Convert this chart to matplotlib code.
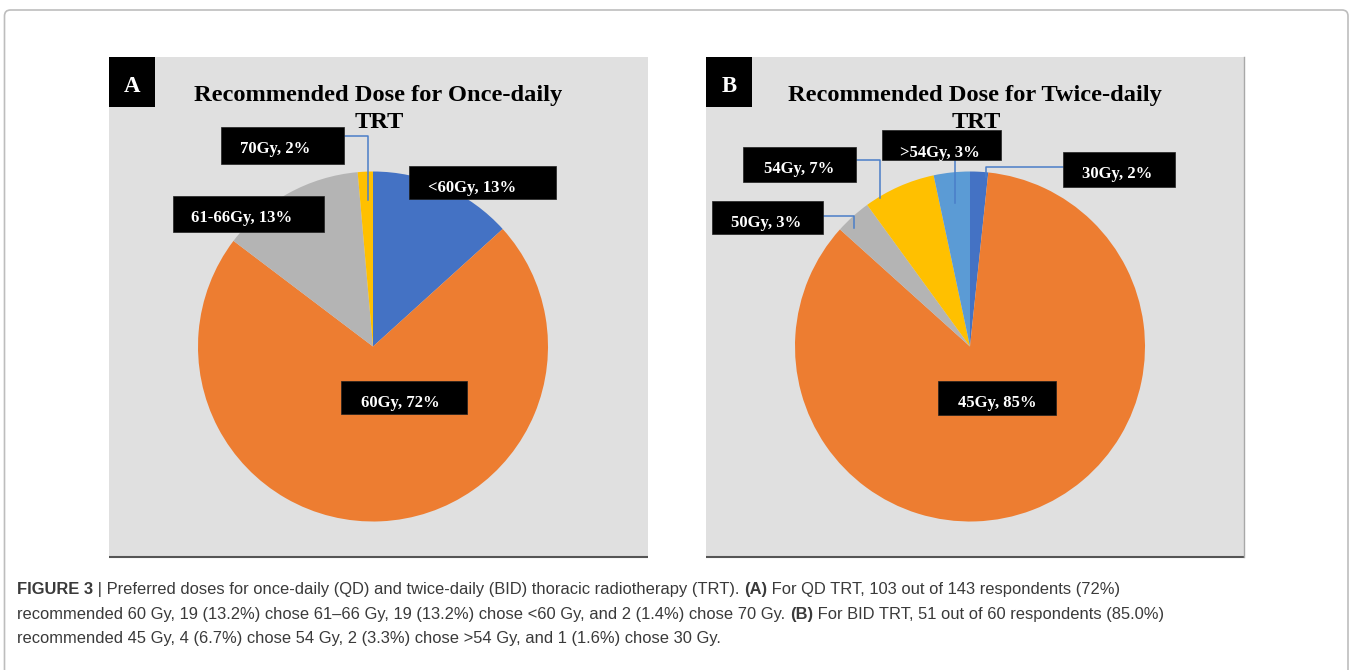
import matplotlib
matplotlib.use("Agg")
import matplotlib.pyplot as plt
from matplotlib.patches import Rectangle, FancyBboxPatch

# data
qd_labels = ["<60Gy, 13%", "60Gy, 72%", "61-66Gy, 13%", "70Gy, 2%"]
qd_counts = [19, 103, 19, 2]
qd_colors = ["#4472C4", "#ED7D31", "#B4B4B4", "#FFC000"]

bid_labels = ["30Gy, 2%", "45Gy, 85%", "50Gy, 3%", "54Gy, 7%", ">54Gy, 3%"]
bid_counts = [1, 51, 2, 4, 2]
bid_colors = ["#4472C4", "#ED7D31", "#B4B4B4", "#FFC000", "#5B9BD5"]

W, H = 1352, 670
fig = plt.figure(figsize=(W / 100, H / 100), dpi=100)
ax = fig.add_axes([0, 0, 1, 1])
ax.set_xlim(0, W)
ax.set_ylim(0, H)
ax.axis("off")


def Y(y):
    # image row -> axes y
    return H - y


serif = "Liberation Serif"
lead_col = "#4A7EC8"

# outer frame
ax.add_patch(FancyBboxPatch((4.5, Y(700)), 1343.5, 690, boxstyle="round,pad=0,rounding_size=6",
                            fc="none", ec="#BDBDBD", lw=1.2))

# panel layout (image px)
panels = [
    dict(x0=109, x1=648, cx=373, tx=378, tag="A",
         title="Recommended Dose for Once-daily"),
    dict(x0=706, x1=1244, cx=970, tx=975, tag="B",
         title="Recommended Dose for Twice-daily"),
]
top, bot, cy, rad = 57, 557, 346.5, 175

for p in panels:
    ax.add_patch(Rectangle((p["x0"], Y(bot)), p["x1"] - p["x0"], bot - top, fc="#E0E0E0", ec="none"))
    ax.plot([p["x0"], p["x1"]], [Y(bot), Y(bot)], color="#555555", lw=1.5, solid_capstyle="butt")
    ax.add_patch(Rectangle((p["x0"], Y(107)), 46, 50, fc="black", ec="none"))
    ax.text(p["x0"] + 23, Y(92), p["tag"], color="white", fontsize=16.5, fontweight="bold",
            family=serif, ha="center", va="baseline")
    ax.text(p["tx"], Y(101), p["title"], fontsize=17.6, fontweight="bold", family=serif,
            ha="center", va="baseline", color="black")
    ax.text(p["tx"] + 1, Y(128), "TRT", fontsize=17.6, fontweight="bold", family=serif,
            ha="center", va="baseline", color="black", zorder=2)
ax.plot([1244, 1244], [Y(bot), Y(top)], color="#A8A8A8", lw=1)

# pies
ax.pie(qd_counts, colors=qd_colors, startangle=90, counterclock=False,
       center=(373, Y(cy)), radius=rad, frame=True,
       wedgeprops=dict(linewidth=0))
ax.pie(bid_counts, colors=bid_colors, startangle=90, counterclock=False,
       center=(970, Y(cy)), radius=rad, frame=True,
       wedgeprops=dict(linewidth=0))
ax.set_xlim(0, W)
ax.set_ylim(0, H)
ax.set_aspect("equal")
ax.axis("off")

# label boxes: (x0, x1, y0, y1, text centre x, baseline y) in image px
qd_boxes = [
    (409, 556, 166, 199, 472, 192),
    (341, 467, 381, 414, 400, 407),
    (173, 324, 196, 232, 242, 222),
    (221, 344, 127, 164, 275, 153),
]
bid_boxes = [
    (1063, 1175, 152, 187, 1117, 178),
    (938, 1056, 381, 415, 997, 407),
    (712, 823, 201, 234, 766, 227),
    (743, 856, 147, 182, 799, 173),
    (882, 1001, 130, 160, 940, 157),
]

# leader lines (image px)
leaders = [
    [(345, 136), (368, 136), (368, 200)],
    [(1063, 167), (986, 167), (986, 177)],
    [(955, 160), (955, 203)],
    [(856, 160), (880, 160), (880, 198)],
    [(823, 216), (854, 216), (854, 228)],
]
for pts in leaders:
    ax.plot([q[0] for q in pts], [Y(q[1]) for q in pts], color=lead_col, lw=1.1, zorder=3)

for labels, boxes in [(qd_labels, qd_boxes), (bid_labels, bid_boxes)]:
    for lab, (x0, x1, y0, y1, tx, by) in zip(labels, boxes):
        ax.add_patch(Rectangle((x0, Y(y1)), x1 - x0, y1 - y0, fc="black", ec="#202020", lw=0.5, zorder=4))
        ax.text(tx, Y(by), lab, color="white", fontsize=12, fontweight="bold", family=serif,
                ha="center", va="baseline", zorder=5)

# caption with bold pieces
cap_lines = [
    [("FIGURE 3", "bold"), (" | Preferred doses for once-daily (QD) and twice-daily (BID) thoracic radiotherapy (TRT). ", "normal"),
     ("(A)", "bold"), (" For QD TRT, 103 out of 143 respondents (72%)", "normal")],
    [("recommended 60 Gy, 19 (13.2%) chose 61\u201366 Gy, 19 (13.2%) chose <60 Gy, and 2 (1.4%) chose 70 Gy. ", "normal"),
     ("(B)", "bold"), (" For BID TRT, 51 out of 60 respondents (85.0%)", "normal")],
    [("recommended 45 Gy, 4 (6.7%) chose 54 Gy, 2 (3.3%) chose >54 Gy, and 1 (1.6%) chose 30 Gy.", "normal")],
]
cap_base = [594, 619, 643]
cap_font = "Liberation Sans"
cap_size = 11.9

renderer = fig.canvas.get_renderer()
for segs, by in zip(cap_lines, cap_base):
    x = 17
    for s, w in segs:
        t = ax.text(x, Y(by), s, fontsize=cap_size, fontweight=w, family=cap_font,
                    color="#3A3A3A", ha="left", va="baseline")
        x += t.get_window_extent(renderer=renderer).width

fig.savefig("out.png", dpi=100)
